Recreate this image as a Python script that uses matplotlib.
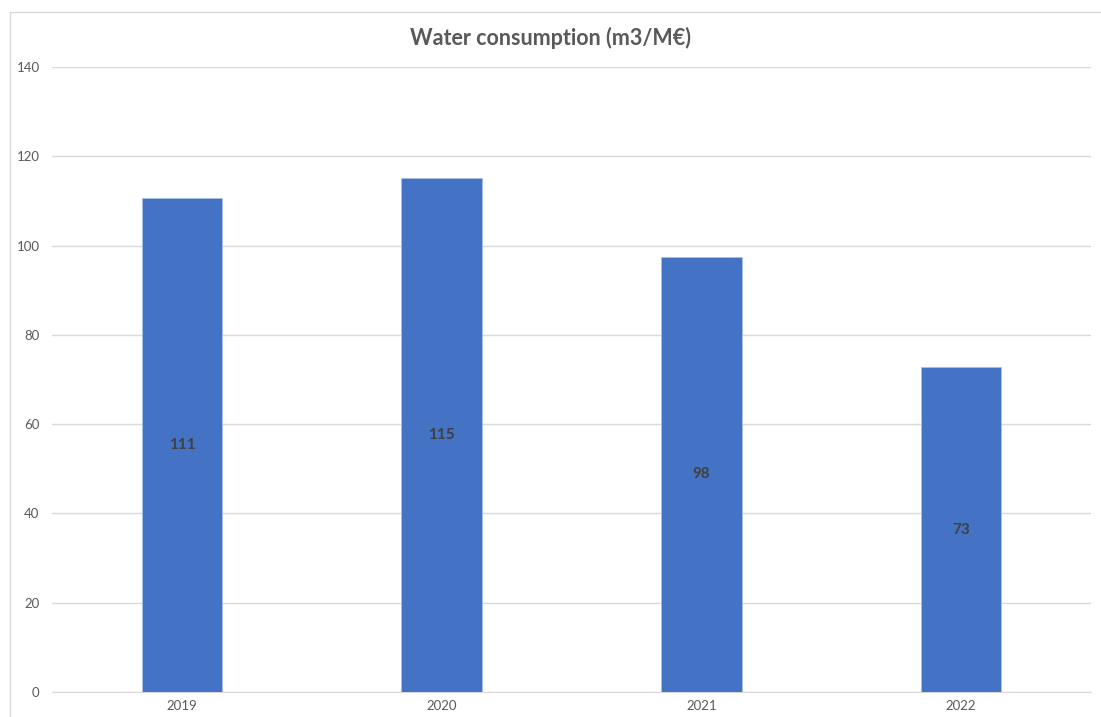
import matplotlib
matplotlib.use("Agg")
import matplotlib.pyplot as plt
from matplotlib.lines import Line2D

years = ["2019", "2020", "2021", "2022"]
values = [110.6, 115.1, 97.5, 72.7]
labels = ["111", "115", "98", "73"]
yticks = [0, 20, 40, 60, 80, 100, 120, 140]

plt.rcParams['font.family'] = ['Lato', 'DejaVu Sans']

fig = plt.figure(figsize=(11.01, 7.17), dpi=100)
ax = fig.add_axes([52/1101, 1-692/717, (1091-52)/1101, (692-67)/717])

x = list(range(len(years)))
ax.bar(x, values, width=0.31, color="#4472C4", edgecolor="#A9C0E8", linewidth=0.6, zorder=3)
for xi, v, lab in zip(x, values, labels):
    ax.text(xi, v/2, lab, ha="center", va="center", fontsize=11, fontweight="bold", color="#404040", zorder=4)

ax.set_xlim(-0.5, 3.5)
ax.set_ylim(0, 140)
ax.set_yticks(yticks)
ax.set_xticks(x)
ax.set_xticklabels(years)
ax.yaxis.grid(True, color="#D9D9D9", linewidth=1, zorder=0)
ax.set_axisbelow(True)
for s in ["top", "right", "left"]:
    ax.spines[s].set_visible(False)
ax.spines["bottom"].set_color("#D9D9D9")
ax.tick_params(axis="both", length=0, labelsize=9.5, colors="#595959")
ax.tick_params(axis="y", pad=9)
ax.tick_params(axis="x", pad=6)

fig.text(551/1101, 1-38/717, "Water consumption (m3/M€)", ha="center", va="center",
         fontsize=15.5, fontweight="bold", color="#595959")

fig.add_artist(Line2D([10/1101, 1.0], [1-12/717, 1-12/717], transform=fig.transFigure, color="#D9D9D9", linewidth=1))
fig.add_artist(Line2D([10/1101, 10/1101], [0, 1-12/717], transform=fig.transFigure, color="#D9D9D9", linewidth=1))

fig.savefig("out.png", dpi=100)
